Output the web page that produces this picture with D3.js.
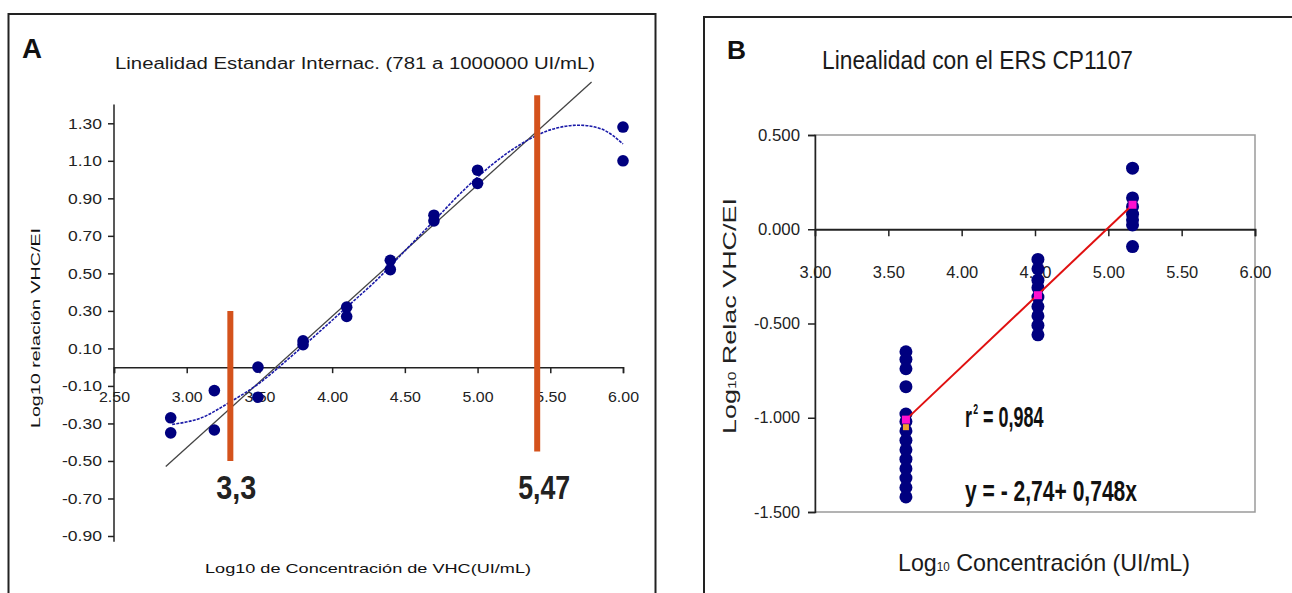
<!DOCTYPE html>
<html>
<head>
<meta charset="utf-8">
<script src="https://cdn.jsdelivr.net/npm/d3@7"></script>
<style>
  body { margin: 0; background: #fff; }
  svg { display: block; }
</style>
</head>
<body>
<svg id="chart" width="1292" height="593"></svg>
<script>
// ---- panel A: international standard ----
const aX = [2.89, 2.89, 3.19, 3.19, 3.49, 3.49, 3.80, 3.80, 4.10, 4.10, 4.40, 4.40, 4.70, 4.70, 5.00, 5.00, 6.00, 6.00];
const aY = [-0.27, -0.35, -0.125, -0.335, 0.00, -0.16, 0.14, 0.12, 0.32, 0.27, 0.57, 0.52, 0.81, 0.78, 1.05, 0.98, 1.28, 1.10];

// polynomial trendline
const fitX = [2.90, 3.10, 3.30, 3.50, 3.70, 3.90, 4.10, 4.30, 4.50, 4.70, 4.90, 5.10, 5.30, 5.50, 5.70, 5.85, 6.00];
const fitY = [-0.305, -0.27, -0.185, -0.085, 0.045, 0.18, 0.32, 0.46, 0.62, 0.78, 0.94, 1.08, 1.19, 1.265, 1.29, 1.27, 1.19];

// straight reference line
const refX = [2.856, 5.784];
const refY = [-0.53, 1.52];

// limits of the linear range (orange bars)
const limX = [3.3, 5.41];
const limLow = [-0.50, -0.45];
const limHigh = [0.30, 1.45];
const limLabels = ['3,3', '5,47'];

const aTicksX = [2.5, 3.0, 3.5, 4.0, 4.5, 5.0, 5.5, 6.0];
const aTicksY = [-0.9, -0.7, -0.5, -0.3, -0.1, 0.1, 0.3, 0.5, 0.7, 0.9, 1.1, 1.3];

// ---- panel B: ERS CP1107 ----
const bX = [
  3.62, 3.62, 3.62, 3.62, 3.62, 3.62, 3.62, 3.62, 3.62, 3.62, 3.62, 3.62, 3.62, 3.62,
  4.52, 4.52, 4.52, 4.52, 4.52, 4.52, 4.52, 4.52, 4.52,
  5.165, 5.165, 5.165, 5.165, 5.165, 5.165, 5.165
];
const bY = [
  -0.65, -0.69, -0.74, -0.835, -0.98, -1.02, -1.07, -1.12, -1.17, -1.22, -1.27, -1.32, -1.37, -1.42,
  -0.16, -0.21, -0.27, -0.31, -0.36, -0.41, -0.46, -0.51, -0.56,
  0.324, 0.166, 0.12, 0.08, 0.05, 0.023, -0.092
];
const meanX = [3.62, 4.52, 5.165];
const meanY = [-1.01, -0.35, 0.13];
const bTicksX = [3.0, 3.5, 4.0, 4.5, 5.0, 5.5, 6.0];
const bTicksY = [-1.5, -1.0, -0.5, 0.0, 0.5];

const svg = d3.select('#chart');
const NAVY = '#00007f';
const narrow = "'Liberation Sans Narrow', 'Arial Narrow', 'Liberation Sans', Arial, sans-serif";
const arial = "'Liberation Sans', Arial, sans-serif";

function label(g, text, x, y, opts) {
  const t = g.append('text')
    .attr('x', x).attr('y', y)
    .attr('font-family', opts.family || arial)
    .attr('font-size', opts.size)
    .attr('font-weight', opts.weight || 'normal')
    .attr('text-anchor', opts.anchor || 'start')
    .attr('fill', opts.fill || '#111')
    .text(text);
  if (opts.len) t.attr('textLength', opts.len).attr('lengthAdjust', 'spacingAndGlyphs');
  if (opts.rotate) t.attr('transform', `rotate(-90, ${x}, ${y})`);
  return t;
}

// plain hyphen minus like the original spreadsheet
const fmt = n => d => d.toFixed(n);

// frames
svg.append('rect').attr('x', 8.5).attr('y', 14).attr('width', 647).attr('height', 620)
  .attr('fill', 'none').attr('stroke', '#222').attr('stroke-width', 2);
svg.append('rect').attr('x', 704).attr('y', 17).attr('width', 620).attr('height', 620)
  .attr('fill', 'none').attr('stroke', '#222').attr('stroke-width', 2);

// ================= Panel A =================
const gA = svg.append('g');
const xA = d3.scaleLinear().domain([2.5, 6.0]).range([114, 623]);
const yA = d3.scaleLinear().domain([-0.9, 1.3]).range([536, 123.3]);

label(gA, 'A', 22, 58, { size: 28, weight: 'bold', len: 20 });
label(gA, 'Linealidad Estandar Internac. (781 a 1000000 UI/mL)', 355, 69, { size: 16, anchor: 'middle', len: 480, fill: '#1a1a1a' });

// y axis
const yAxisA = d3.axisLeft(yA).tickValues(aTicksY).tickSize(6).tickPadding(6)
  .tickFormat(fmt(2));
const gyA = gA.append('g').attr('transform', 'translate(114,0)').call(yAxisA);
gyA.select('.domain').remove();
gA.append('line').attr('x1', 114).attr('x2', 114).attr('y1', yA(1.4)).attr('y2', yA(-0.93))
  .attr('stroke', '#222').attr('stroke-width', 1.5);
gyA.selectAll('.tick line').attr('stroke', '#222').attr('stroke-width', 1.5);
gyA.selectAll('.tick text').attr('font-family', arial).attr('font-size', 15).attr('fill', '#222')
  .attr('textLength', d => d < 0 ? 40 : 34).attr('lengthAdjust', 'spacingAndGlyphs');

// x axis at y = 0
const xAxisA = d3.axisBottom(xA).tickValues(aTicksX).tickSize(6).tickPadding(18)
  .tickFormat(fmt(2));
const gxA = gA.append('g').attr('transform', `translate(0,${yA(0)})`).call(xAxisA);
gxA.select('.domain').attr('stroke', '#222').attr('stroke-width', 1.5);
gxA.selectAll('.tick line').attr('stroke', '#222').attr('stroke-width', 1.5);
gxA.selectAll('.tick text').attr('font-family', arial).attr('font-size', 15).attr('fill', '#222')
  .attr('textLength', 31).attr('lengthAdjust', 'spacingAndGlyphs');

label(gA, 'Log10 relación VHC/EI', 40, 328, { size: 12.5, anchor: 'middle', rotate: true, len: 200 });
label(gA, 'Log10 de Concentración de VHC(UI/mL)', 368, 573, { size: 13, anchor: 'middle', len: 326 });

// reference line
gA.append('line')
  .attr('x1', xA(refX[0])).attr('y1', yA(refY[0]))
  .attr('x2', xA(refX[1])).attr('y2', yA(refY[1]))
  .attr('stroke', '#444').attr('stroke-width', 1.3);

// trendline
const fitLine = d3.line().x(d => xA(d[0])).y(d => yA(d[1])).curve(d3.curveMonotoneX);
gA.append('path')
  .attr('d', fitLine(d3.zip(fitX, fitY)))
  .attr('fill', 'none').attr('stroke', '#1a1aa8').attr('stroke-width', 1.6)
  .attr('stroke-dasharray', '3 1.2');

// points
gA.append('g').selectAll('circle')
  .data(d3.zip(aX, aY))
  .join('circle')
  .attr('cx', d => xA(d[0])).attr('cy', d => yA(d[1]))
  .attr('r', 5.8).attr('fill', NAVY);

// orange limit bars
gA.append('g').selectAll('line')
  .data(limX)
  .join('line')
  .attr('x1', d => xA(d)).attr('x2', d => xA(d))
  .attr('y1', (d, i) => yA(limHigh[i])).attr('y2', (d, i) => yA(limLow[i]))
  .attr('stroke', '#d4521c').attr('stroke-width', 6);

limLabels.forEach((t, i) => {
  label(gA, t, xA(limX[i]) + (i === 0 ? 6 : 7), 499, {
    size: 33, weight: 'bold', anchor: 'middle', family: narrow, len: i === 0 ? 40 : 52, fill: '#222'
  });
});

// ================= Panel B =================
const gB = svg.append('g');
const xB = d3.scaleLinear().domain([3.0, 6.0]).range([815, 1255]);
const yB = d3.scaleLinear().domain([-1.5, 0.5]).range([512, 135]);

label(gB, 'B', 727, 59, { size: 26, weight: 'bold', len: 19 });
label(gB, 'Linealidad con el ERS CP1107', 822, 69, { size: 26, family: narrow, len: 311, fill: '#1a1a1a' });

// plot area border
gB.append('rect')
  .attr('x', xB(3.0)).attr('y', yB(0.5))
  .attr('width', xB(6.0) - xB(3.0)).attr('height', yB(-1.5) - yB(0.5))
  .attr('fill', 'none').attr('stroke', '#9a9a9a').attr('stroke-width', 1.5);

const yAxisB = d3.axisLeft(yB).tickValues(bTicksY).tickSize(7).tickPadding(8)
  .tickFormat(fmt(3));
const gyB = gB.append('g').attr('transform', `translate(${xB(3.0)},0)`).call(yAxisB);
gyB.select('.domain').attr('stroke', '#222').attr('stroke-width', 1.5);
gyB.selectAll('.tick line').attr('stroke', '#222').attr('stroke-width', 1.5);
gyB.selectAll('.tick text').attr('font-family', arial).attr('font-size', 16).attr('fill', '#222')
  .attr('textLength', d => d < 0 ? 46 : 42).attr('lengthAdjust', 'spacingAndGlyphs');

const xAxisB = d3.axisBottom(xB).tickValues(bTicksX).tickSize(7).tickPadding(30)
  .tickFormat(fmt(2));
const gxB = gB.append('g').attr('transform', `translate(0,${yB(0)})`).call(xAxisB);
gxB.select('.domain').attr('stroke', '#222').attr('stroke-width', 1.8);
gxB.selectAll('.tick line').attr('stroke', '#222').attr('stroke-width', 1.5)
  .attr('display', d => d === 3.0 ? 'none' : null);
gxB.selectAll('.tick text').attr('font-family', arial).attr('font-size', 17).attr('fill', '#222')
  .attr('textLength', 32).attr('lengthAdjust', 'spacingAndGlyphs');

// y label with subscript
const yl = gB.append('text')
  .attr('transform', 'translate(736,316) rotate(-90)')
  .attr('text-anchor', 'middle')
  .attr('font-family', arial).attr('font-size', 19).attr('fill', '#222')
  .attr('textLength', 236).attr('lengthAdjust', 'spacingAndGlyphs');
yl.append('tspan').text('Log');
yl.append('tspan').attr('font-size', 11).text('10');
yl.append('tspan').text(' Relac VHC/EI');

// x label with subscript
const xl = gB.append('text')
  .attr('x', 1044).attr('y', 571)
  .attr('text-anchor', 'middle')
  .attr('font-family', narrow).attr('font-size', 24).attr('fill', '#1a1a1a')
  .attr('textLength', 292).attr('lengthAdjust', 'spacingAndGlyphs');
xl.append('tspan').text('Log');
xl.append('tspan').attr('font-size', 12).text('10');
xl.append('tspan').text(' Concentración (UI/mL)');

// points
gB.append('g').selectAll('circle')
  .data(d3.zip(bX, bY))
  .join('circle')
  .attr('cx', d => xB(d[0])).attr('cy', d => yB(d[1]))
  .attr('r', 6.5).attr('fill', NAVY);

// regression line through the means
gB.append('line')
  .attr('x1', xB(meanX[0])).attr('y1', yB(meanY[0]))
  .attr('x2', xB(meanX[2])).attr('y2', yB(meanY[2]))
  .attr('stroke', '#e01010').attr('stroke-width', 2);

gB.append('g').selectAll('rect')
  .data(d3.zip(meanX, meanY))
  .join('rect')
  .attr('x', d => xB(d[0]) - 4).attr('y', d => yB(d[1]) - 4)
  .attr('width', 8).attr('height', 8).attr('fill', '#ff10d0');
gB.append('rect')
  .attr('x', xB(meanX[0]) - 3).attr('y', yB(meanY[0] - 0.04) - 3)
  .attr('width', 6).attr('height', 6).attr('fill', '#f0a030');

// equation text (condensed with a horizontal scale)
const r2 = gB.append('text')
  .attr('transform', 'translate(965,427) scale(0.62,1)')
  .attr('font-family', narrow).attr('font-size', 29).attr('font-weight', 'bold').attr('fill', '#111');
r2.append('tspan').text('r');
r2.append('tspan').attr('font-size', 14).attr('dx', 2).attr('dy', -13).text('2');
r2.append('tspan').attr('dy', 13).text(' = 0,984');

label(gB, 'y = - 2,74+ 0,748x', 965, 501, {
  size: 29, weight: 'bold', family: narrow, len: 172, fill: '#111'
});
</script>
</body>
</html>
